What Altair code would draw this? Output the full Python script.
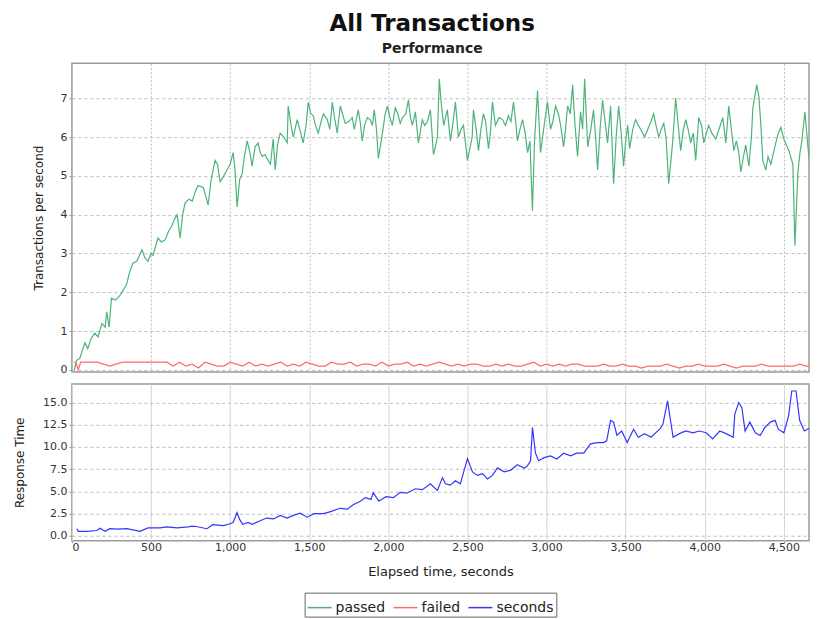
import altair as alt
import pandas as pd

# ---------------- data ----------------
passed_t = [15, 30, 50, 65, 82, 100, 120, 145, 165, 190, 210, 220, 235, 250, 275, 300, 323, 345, 367, 386,
            410, 443, 460, 481, 500, 513, 530, 544, 565, 589, 608, 630, 650, 665, 684, 700, 715, 740, 760, 780,
            797, 830, 845, 861, 880, 905, 920, 937, 960, 980, 1000, 1019, 1030, 1044, 1060, 1076, 1090, 1108, 1125, 1139,
            1158, 1177, 1190, 1203, 1220, 1240, 1255, 1272, 1285, 1300, 1316, 1340, 1361, 1367, 1385, 1399, 1424, 1440, 1462, 1480,
            1494, 1510, 1525, 1540, 1557, 1575, 1589, 1614, 1630, 1646, 1660, 1677, 1696, 1710, 1728, 1750, 1772, 1785, 1810, 1822,
            1835, 1850, 1867, 1885, 1899, 1911, 1925, 1937, 1955, 1968, 1980, 1994, 2010, 2025, 2044, 2060, 2075, 2089, 2110, 2127,
            2140, 2152, 2171, 2190, 2215, 2230, 2247, 2266, 2285, 2300, 2310, 2322, 2336, 2350, 2373, 2392, 2410, 2424, 2443, 2460,
            2475, 2500, 2515, 2530, 2538, 2555, 2570, 2585, 2601, 2615, 2633, 2645, 2658, 2677, 2700, 2722, 2740, 2759, 2775, 2791,
            2805, 2816, 2832, 2848, 2865, 2880, 2895, 2911, 2924, 2943, 2962, 2985, 3006, 3025, 3040, 3057, 3075, 3089, 3108, 3120,
            3133, 3150, 3165, 3180, 3196, 3215, 3228, 3241, 3260, 3280, 3297, 3310, 3323, 3340, 3354, 3370, 3386, 3405, 3424, 3440,
            3456, 3470, 3487, 3500, 3513, 3525, 3545, 3563, 3580, 3595, 3620, 3640, 3660, 3677, 3692, 3709, 3725, 3741, 3755, 3772,
            3797, 3816, 3830, 3848, 3865, 3880, 3895, 3911, 3928, 3943, 3962, 3980, 3994, 4010, 4025, 4045, 4070, 4090, 4114, 4133,
            4152, 4168, 4184, 4200, 4215, 4228, 4245, 4259, 4279, 4295, 4304, 4329, 4342, 4355, 4367, 4386, 4400, 4418, 4435, 4449,
            4465, 4481, 4500, 4515, 4532, 4557, 4570, 4589, 4602, 4614, 4633, 4652, 4671, 4690, 4703, 4722]
passed_v = [0.0, 0.25, 0.3, 0.5, 0.7, 0.55, 0.8, 0.95, 0.85, 1.2, 1.1, 1.5, 1.1, 1.85, 1.8, 1.9, 2.05, 2.2, 2.55, 2.75,
            2.8, 3.1, 2.9, 2.8, 3.0, 2.95, 3.2, 3.4, 3.3, 3.35, 3.55, 3.7, 3.9, 4.0, 3.4, 4.0, 4.3, 4.4, 4.35, 4.6,
            4.75, 4.7, 4.5, 4.25, 4.9, 5.4, 5.3, 4.85, 5.0, 5.15, 5.3, 5.6, 5.2, 4.2, 4.9, 5.05, 5.5, 5.9, 5.6, 5.25,
            5.75, 5.85, 5.6, 5.5, 5.55, 5.4, 5.3, 5.95, 5.15, 5.8, 6.1, 6.0, 5.85, 6.8, 6.3, 6.0, 6.45, 6.2, 5.85, 6.3,
            6.9, 6.6, 6.55, 6.3, 6.1, 6.4, 6.6, 6.45, 6.2, 6.9, 6.5, 6.1, 6.8, 6.6, 6.35, 6.4, 6.5, 6.2, 6.7, 6.4,
            5.9, 6.3, 6.5, 6.45, 6.3, 6.7, 6.2, 5.45, 5.9, 6.25, 6.6, 6.8, 6.5, 6.3, 6.75, 6.6, 6.35, 6.5, 6.6, 6.95,
            6.5, 6.3, 6.65, 5.85, 6.45, 6.3, 6.4, 6.7, 5.55, 5.8, 6.0, 7.5, 6.8, 6.3, 6.7, 5.9, 6.4, 6.9, 6.0, 6.2,
            6.3, 5.4, 5.7, 6.0, 6.7, 6.2, 5.65, 6.2, 6.6, 6.4, 5.7, 6.1, 6.9, 6.3, 6.5, 6.45, 6.3, 6.55, 6.4, 6.9,
            6.4, 5.9, 6.2, 6.45, 6.1, 5.6, 5.9, 4.1, 5.9, 7.2, 5.6, 6.3, 6.9, 6.2, 6.4, 6.8, 6.6, 6.3, 5.75, 6.2,
            6.8, 6.6, 7.35, 6.3, 5.5, 6.65, 6.2, 7.5, 5.75, 6.2, 6.7, 6.0, 5.15, 6.3, 6.95, 6.4, 5.85, 6.8, 4.8, 6.0,
            6.8, 6.2, 5.25, 5.9, 6.3, 5.7, 6.2, 6.45, 6.3, 6.2, 6.0, 6.2, 6.4, 6.6, 6.3, 6.0, 6.2, 6.35, 6.0, 4.8,
            5.85, 7.0, 6.4, 5.65, 6.2, 6.45, 6.2, 5.85, 6.1, 5.4, 6.5, 6.3, 5.85, 6.1, 6.3, 6.1, 5.95, 6.2, 6.5, 5.85,
            6.8, 6.2, 5.65, 5.9, 5.6, 5.1, 5.5, 5.8, 5.25, 6.0, 6.75, 7.35, 7.05, 6.3, 5.4, 5.15, 5.5, 5.3, 5.6, 5.85,
            6.1, 6.25, 5.95, 5.8, 5.65, 5.3, 3.2, 5.1, 5.6, 5.9, 6.65, 5.75, 5.0, 5.6, 6.1, 5.6]

failed_t = [15, 25, 40, 55, 80, 120, 160, 200, 240, 280, 320, 360, 400, 440, 480, 520, 560, 600, 640, 680,
            720, 760, 800, 840, 880, 920, 960, 1000, 1040, 1080, 1120, 1160, 1200, 1240, 1280, 1320, 1360, 1400, 1440, 1480,
            1520, 1560, 1600, 1640, 1680, 1720, 1760, 1800, 1840, 1880, 1920, 1960, 2000, 2040, 2080, 2120, 2160, 2200, 2240, 2280,
            2320, 2360, 2400, 2440, 2480, 2520, 2560, 2600, 2640, 2680, 2720, 2760, 2800, 2840, 2880, 2920, 2960, 3000, 3040, 3080,
            3120, 3160, 3200, 3240, 3280, 3320, 3360, 3400, 3440, 3480, 3520, 3560, 3600, 3640, 3680, 3720, 3760, 3800, 3840, 3880,
            3920, 3960, 4000, 4040, 4080, 4120, 4160, 4200, 4240, 4280, 4320, 4360, 4400, 4440, 4480, 4520, 4560, 4600, 4640, 4680, 4722]
failed_v = [0.2, 0.2, 0.0, 0.2, 0.2, 0.2, 0.2, 0.15, 0.1, 0.15, 0.2, 0.2, 0.2, 0.2, 0.2, 0.2, 0.2, 0.2, 0.1, 0.2,
            0.1, 0.15, 0.05, 0.2, 0.15, 0.1, 0.1, 0.2, 0.15, 0.1, 0.2, 0.1, 0.15, 0.1, 0.15, 0.2, 0.1, 0.15, 0.1, 0.2,
            0.15, 0.1, 0.1, 0.2, 0.15, 0.15, 0.2, 0.1, 0.15, 0.15, 0.1, 0.2, 0.1, 0.15, 0.15, 0.2, 0.1, 0.15, 0.1, 0.15,
            0.2, 0.15, 0.1, 0.15, 0.1, 0.15, 0.15, 0.1, 0.1, 0.15, 0.1, 0.15, 0.1, 0.1, 0.15, 0.2, 0.1, 0.15, 0.1, 0.15,
            0.1, 0.15, 0.15, 0.1, 0.1, 0.1, 0.15, 0.1, 0.1, 0.15, 0.1, 0.1, 0.05, 0.1, 0.1, 0.1, 0.15, 0.1, 0.05, 0.1,
            0.1, 0.15, 0.1, 0.1, 0.1, 0.15, 0.1, 0.05, 0.1, 0.1, 0.1, 0.15, 0.1, 0.1, 0.1, 0.1, 0.1, 0.15, 0.1, 0.1, 0.15]

rt_t = [30, 40, 95, 158, 177, 210, 240, 290, 348, 430, 481, 557, 600, 665, 734, 760, 785, 854, 890, 956,
        990, 1019, 1044, 1060, 1080, 1114, 1140, 1190, 1230, 1275, 1316, 1360, 1400, 1443, 1487, 1530, 1589, 1630, 1696, 1740,
        1778, 1823, 1855, 1890, 1905, 1940, 1985, 2032, 2075, 2115, 2171, 2215, 2266, 2310, 2342, 2361, 2392, 2424, 2455, 2500,
        2532, 2563, 2595, 2627, 2658, 2690, 2732, 2774, 2816, 2860, 2880, 2899, 2911, 2930, 2950, 2985, 3025, 3065, 3108, 3152,
        3190, 3235, 3278, 3320, 3360, 3380, 3405, 3424, 3445, 3475, 3510, 3550, 3580, 3620, 3660, 3715, 3735, 3765, 3780, 3800,
        3840, 3880, 3925, 3965, 4010, 4050, 4095, 4135, 4180, 4190, 4215, 4235, 4255, 4285, 4320, 4350, 4380, 4415, 4445, 4465,
        4500, 4530, 4550, 4577, 4600, 4630, 4670, 4710, 4722]
rt_v = [0.8, 0.5, 0.5, 0.6, 0.85, 0.5, 0.8, 0.75, 0.8, 0.5, 0.9, 0.9, 1.0, 0.9, 1.0, 1.1, 1.05, 0.8, 1.25, 1.15,
        1.3, 1.5, 2.6, 1.85, 1.3, 1.5, 1.3, 1.7, 2.0, 1.9, 2.3, 2.0, 2.3, 2.55, 2.1, 2.5, 2.5, 2.7, 3.1, 3.0,
        3.5, 3.9, 4.3, 4.1, 4.85, 3.9, 4.4, 4.3, 4.9, 4.8, 5.3, 5.2, 5.85, 5.1, 6.55, 5.85, 5.7, 6.2, 5.85, 8.7,
        7.2, 6.8, 7.0, 6.4, 6.8, 7.65, 7.2, 7.4, 8.0, 7.6, 7.9, 8.45, 12.2, 9.3, 8.45, 8.8, 9.0, 8.65, 9.3, 9.0,
        9.3, 9.3, 10.35, 10.5, 10.5, 10.7, 13.0, 12.8, 11.3, 11.8, 10.5, 12.0, 11.1, 11.5, 11.1, 12.0, 12.5, 15.2, 13.4, 11.1,
        11.5, 11.8, 11.6, 11.8, 11.6, 10.9, 11.8, 11.5, 11.1, 13.7, 15.0, 14.4, 11.8, 12.8, 11.6, 11.3, 12.2, 12.8, 13.0, 12.0,
        11.6, 13.5, 16.3, 16.3, 13.0, 11.8, 12.2, 13.8, 13.5]

series_names = ["passed", "failed", "seconds"]
series_colors = ["#4cb47a", "#ff6a6a", "#3535ff"]
x_ticks = [0, 500, 1000, 1500, 2000, 2500, 3000, 3500, 4000, 4500]
top_ticks = [0, 1, 2, 3, 4, 5, 6, 7]
bottom_ticks = [0.0, 2.5, 5.0, 7.5, 10.0, 12.5, 15.0]

top_df = pd.concat([
    pd.DataFrame({"t": passed_t, "v": passed_v, "series": "passed"}),
    pd.DataFrame({"t": failed_t, "v": failed_v, "series": "failed"}),
])
bot_df = pd.DataFrame({"t": rt_t, "v": rt_v, "series": "seconds"})

FONT = "DejaVu Sans"
X_MAX = 4659

color = alt.Color(
    "series:N",
    scale=alt.Scale(domain=series_names, range=series_colors),
    legend=alt.Legend(
        title=None, orient="none", direction="horizontal",
        legendX=233, legendY=530,
        symbolType="stroke", symbolSize=576, symbolStrokeWidth=1.5,
        labelFontSize=14, labelFont=FONT, labelColor="#222",
        strokeColor="#666", padding=2, columnPadding=5, labelOffset=3,
    ),
)

top = alt.Chart(top_df).mark_line(strokeWidth=1.2, clip=True).encode(
    x=alt.X("t:Q", scale=alt.Scale(domain=[0, X_MAX], nice=False, zero=False),
            axis=alt.Axis(values=x_ticks, labels=False, ticks=False, title=None, domain=False,
                          grid=True, gridDash=[2, 2], gridColor="#bdbdbd")),
    y=alt.Y("v:Q", scale=alt.Scale(domain=[-0.05, 7.9], nice=False),
            axis=alt.Axis(values=top_ticks, format="d", title="Transactions per second",
                          titlePadding=14, grid=True, gridDash=[3, 3], gridColor="#bdbdbd")),
    color=color,
    order="t:Q",
).properties(width=738, height=309)

bottom = alt.Chart(bot_df).mark_line(strokeWidth=1.2, clip=True).encode(
    x=alt.X("t:Q", scale=alt.Scale(domain=[0, X_MAX], nice=False, zero=False),
            axis=alt.Axis(values=x_ticks, format=",d", title="Elapsed time, seconds",
                          titleFontSize=13, titlePadding=13, domain=False, tickSize=2, labelPadding=-1,
                          grid=True, gridColor="#d6d6d6")),
    y=alt.Y("v:Q", scale=alt.Scale(domain=[-0.55, 17.1], nice=False),
            axis=alt.Axis(values=bottom_ticks, format=".1f", title="Response Time",
                          titlePadding=16, grid=True, gridDash=[3, 3], gridColor="#bdbdbd")),
    color=color,
    order="t:Q",
).properties(width=738, height=157)

chart = alt.vconcat(top, bottom, spacing=7).properties(
    title=alt.TitleParams(
        "All Transactions", subtitle="Performance",
        font=FONT, fontSize=23, fontWeight="bold", color="#111",
        subtitleFont=FONT, subtitleFontSize=14, subtitleFontWeight="bold", subtitleColor="#222",
        subtitlePadding=6, anchor="middle", offset=7, dx=21,
    ),
    padding={"left": 4, "top": 4, "right": 0, "bottom": 0},
).configure_view(
    stroke="#9a9a9a", strokeWidth=1.5
).configure_axis(
    labelFont=FONT, labelFontSize=11, labelColor="#333",
    titleFont=FONT, titleFontSize=12, titleColor="#222", titleFontWeight="normal",
    tickSize=3, tickColor="#999", labelPadding=2, domain=False,
)

chart.save("out.html", embed_options={"renderer": "svg", "actions": False})
